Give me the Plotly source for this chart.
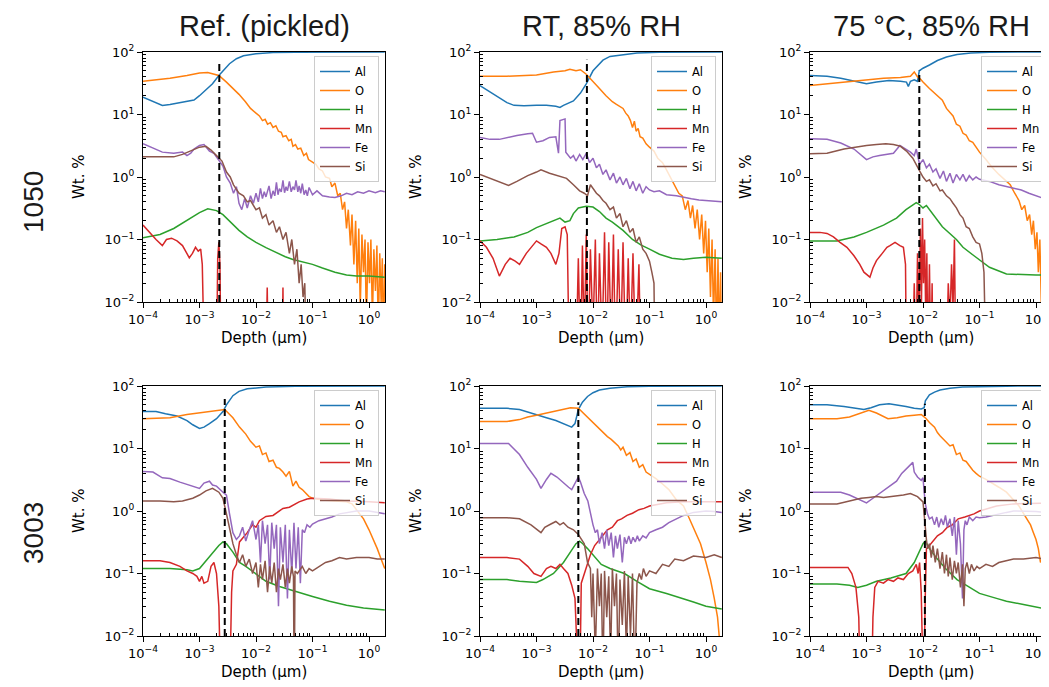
import plotly.graph_objects as go

# the page body has an 8 px margin; figure is sized to fill the rest of the 1049x687 window
PAGE_W, PAGE_H = 1049, 687
OFFSET = 8
W, H = PAGE_W - OFFSET, PAGE_H - OFFSET

ELEMENTS = ["Al", "O", "H", "Mn", "Fe", "Si"]
COLORS = ["#1f77b4", "#ff7f0e", "#2ca02c", "#d62728", "#9467bd", "#8c564b"]
COL_TITLES = ["Ref. (pickled)", "RT, 85% RH", "75 °C, 85% RH"]
ROW_LABELS = ["1050", "3003"]
X_TICKS = [1e-4, 1e-3, 1e-2, 1e-1, 1e0]
X_TICK_TEXT = ["10<sup>\u22124</sup>", "10<sup>\u22123</sup>", "10<sup>\u22122</sup>", "10<sup>\u22121</sup>", "10<sup>0</sup>"]
Y_TICKS = [1e-2, 1e-1, 1e0, 1e1, 1e2]
Y_TICK_TEXT = ["10<sup>\u22122</sup>", "10<sup>\u22121</sup>", "10<sup>0</sup>", "10<sup>1</sup>", "10<sup>2</sup>"]
X_LABEL = "Depth (\u00b5m)"
Y_LABEL = "Wt. %"

# interface depth (um) and top of dashed marker (wt.%) per panel (row-major)
INTERFACE_DEPTH = [2.24e-3, 7.8e-3, 8.6e-3, 2.8e-3, 5.5e-3, 1.08e-2]
INTERFACE_TOP = [70, 75, 50, 62, 55, 52]

# ---------------- Panel 1: 1050, Ref. (pickled) ----------------
p1_al = [(1e-4,19),(1.5e-4,16),(2.2e-4,14),(3e-4,14.5),(4.5e-4,15.5),(6e-4,16),(8e-4,17),(1e-3,20),(1.3e-3,25),(1.7e-3,31),(2.2e-3,42),(2.6e-3,50),(3.4e-3,65),(4.5e-3,78),(6e-3,87),(1e-2,94),(2e-2,98),(5e-2,99.5),(0.2,100),(1.9,100)]
p1_o = [(1e-4,34),(3e-4,38),(6e-4,42),(1e-3,46),(1.4e-3,47),(2.2e-3,42),(3e-3,33),(4e-3,26),(5e-3,21),(6.5e-3,16),(8e-3,12.5),(1e-2,10.5),(1.15e-2,9.5),(1.3e-2,8),(1.45e-2,8.4),(1.6e-2,7.0),(1.8e-2,7.4),(2e-2,6.2),(2.25e-2,6.6),(2.5e-2,5.4),(2.8e-2,5.2),(3e-2,4.4),(3.4e-2,4.6),(3.8e-2,3.8),(4.2e-2,4.0),(4.5e-2,3.1),(5e-2,3.3),(5.5e-2,2.8),(6.2e-2,2.9),(7e-2,2.2),(7.8e-2,2.4),(8.5e-2,1.9),(0.1,1.75),(0.115,1.6),(0.13,1.35),(0.15,1.25),(0.17,1.0),(0.2,0.95),(0.22,0.7),(0.25,0.8),(0.28,0.5),(0.31,0.55),(0.34,0.3),(0.37,0.4),(0.4,0.15),(0.43,0.3),(0.47,0.08),(0.5,0.25),(0.54,0.04),(0.58,0.2),(0.62,0.02),(0.66,0.15),(0.7,0.008),(0.75,0.12),(0.8,0.03),(0.85,0.1),(0.9,0.004),(0.96,0.09),(1.02,0.02),(1.08,0.1),(1.15,0.005),(1.22,0.07),(1.3,0.015),(1.38,0.08),(1.46,0.003),(1.55,0.06),(1.64,0.01),(1.72,0.05),(1.8,0.002),(1.9,0.04)]
p1_h = [(1e-4,0.107),(2e-4,0.12),(3.5e-4,0.15),(6e-4,0.2),(1e-3,0.27),(1.4e-3,0.31),(2e-3,0.29),(2.6e-3,0.25),(3.3e-3,0.2),(4e-3,0.17),(5e-3,0.14),(7e-3,0.11),(1e-2,0.09),(1.5e-2,0.074),(2.2e-2,0.062),(3.3e-2,0.053),(4.5e-2,0.048),(7e-2,0.043),(0.1,0.04),(0.15,0.035),(0.25,0.03),(0.4,0.027),(0.6,0.026),(1.0,0.026),(1.9,0.025)]
p1_mn = [(1e-4,0.17),(1.3e-4,0.13),(1.7e-4,0.1),(2.2e-4,0.08),(2.6e-4,0.1),(3.2e-4,0.105),(4e-4,0.095),(5e-4,0.08),(6.6e-4,0.051),(7.5e-4,0.06),(8.5e-4,0.075),(9.5e-4,0.065),(1.05e-3,0.07),(1.12e-3,0.04),(1.18e-3,0.008),(1.22e-3,0.001),(2.0e-3,0.001),(2.1e-3,0.05),(2.2e-3,0.09),(2.3e-3,0.04),(2.4e-3,0.001),(1.5e-2,0.001),(1.58e-2,0.017),(1.66e-2,0.001),(2.9e-2,0.001),(3.0e-2,0.017),(3.1e-2,0.001)]
p1_fe = [(1e-4,3.4),(1.5e-4,2.9),(2.2e-4,2.5),(3.5e-4,2.4),(5e-4,2.5),(6e-4,2.2),(7e-4,2.4),(8e-4,2.8),(1e-3,3.2),(1.2e-3,3.3),(1.5e-3,2.6),(1.8e-3,2.4),(2.2e-3,1.9),(2.6e-3,1.5),(3e-3,1.0),(3.5e-3,0.8),(4e-3,0.55),(4.5e-3,0.7),(5e-3,0.38),(5.6e-3,0.3),(6.3e-3,0.45),(7e-3,0.32),(8e-3,0.5),(9e-3,0.38),(1e-2,0.55),(1.1e-2,0.4),(1.2e-2,0.66),(1.3e-2,0.45),(1.4e-2,0.58),(1.5e-2,0.48),(1.7e-2,0.72),(1.85e-2,0.45),(2e-2,0.6),(2.15e-2,0.5),(2.3e-2,0.82),(2.45e-2,0.52),(2.6e-2,0.65),(2.8e-2,0.58),(3e-2,0.88),(3.2e-2,0.56),(3.4e-2,0.7),(3.6e-2,0.6),(3.9e-2,0.85),(4.2e-2,0.58),(4.5e-2,0.7),(4.8e-2,0.62),(5.1e-2,0.88),(5.5e-2,0.58),(5.8e-2,0.72),(6.2e-2,0.55),(6.6e-2,0.78),(7.1e-2,0.52),(7.6e-2,0.62),(8.1e-2,0.5),(8.7e-2,0.68),(0.1,0.52),(0.12,0.6),(0.15,0.5),(0.2,0.48),(0.25,0.47),(0.32,0.5),(0.4,0.55),(0.5,0.52),(0.63,0.58),(0.8,0.55),(1.0,0.6),(1.3,0.56),(1.6,0.6),(1.9,0.58)]
p1_si = [(1e-4,2.1),(2e-4,2.1),(3.5e-4,2.1),(5e-4,2.3),(7e-4,2.6),(1e-3,3.0),(1.3e-3,3.1),(1.6e-3,2.7),(2e-3,2.2),(2.5e-3,1.8),(3e-3,1.2),(3.5e-3,1.0),(4e-3,0.75),(5e-3,0.55),(6e-3,0.5),(7e-3,0.4),(8e-3,0.42),(1e-2,0.3),(1.15e-2,0.32),(1.3e-2,0.22),(1.5e-2,0.25),(1.7e-2,0.17),(2e-2,0.2),(2.3e-2,0.13),(2.6e-2,0.16),(3e-2,0.1),(3.4e-2,0.13),(3.9e-2,0.06),(4.3e-2,0.1),(4.8e-2,0.04),(5.3e-2,0.07),(5.8e-2,0.02),(6.3e-2,0.04),(6.8e-2,0.012),(7.3e-2,0.02),(7.8e-2,0.001)]

# ---------------- Panel 2: 1050, RT, 85% RH ----------------
p2_al = [(1e-4,29),(1.5e-4,23),(2.2e-4,18),(3e-4,15.5),(4e-4,14),(6e-4,13.8),(1e-3,14),(1.5e-3,14),(2.2e-3,13.5),(2.6e-3,13),(3e-3,14),(4.5e-3,16.5),(6e-3,22),(7.6e-3,31),(1e-2,50),(1.5e-2,74),(2e-2,85),(3.4e-2,91),(6e-2,96),(0.15,99),(0.5,100),(1.9,100)]
p2_o = [(1e-4,41),(3e-4,41),(1e-3,43),(2e-3,48),(3.2e-3,50),(3.9e-3,53),(5e-3,50),(6e-3,52),(7.6e-3,44),(1e-2,33),(1.3e-2,26),(1.7e-2,20),(2.2e-2,16),(2.6e-2,14.5),(3e-2,13.5),(3.4e-2,12.5),(3.8e-2,10.5),(4.2e-2,9.5),(4.6e-2,8.0),(5e-2,6.2),(5.4e-2,7.8),(5.8e-2,5.4),(6.3e-2,6.0),(6.8e-2,4.4),(7.6e-2,4.2),(8.7e-2,3.4),(0.1,3.0),(0.12,2.6),(0.14,2.0),(0.17,1.7),(0.2,1.3),(0.24,0.95),(0.28,0.72),(0.33,0.55),(0.38,0.5),(0.43,0.3),(0.48,0.42),(0.53,0.22),(0.58,0.35),(0.64,0.15),(0.7,0.3),(0.77,0.1),(0.84,0.25),(0.91,0.06),(0.98,0.2),(1.05,0.03),(1.12,0.15),(1.2,0.012),(1.28,0.1),(1.36,0.005),(1.45,0.07),(1.54,0.002),(1.63,0.05),(1.72,0.002),(1.81,0.03),(1.9,0.001)]
p2_h = [(1e-4,0.095),(2e-4,0.1),(4e-4,0.11),(7e-4,0.13),(1e-3,0.155),(1.5e-3,0.18),(2.2e-3,0.21),(2.6e-3,0.22),(3.2e-3,0.19),(3.9e-3,0.2),(4.5e-3,0.26),(5.5e-3,0.32),(7.6e-3,0.34),(1e-2,0.33),(1.3e-2,0.28),(1.7e-2,0.22),(2.2e-2,0.19),(3.4e-2,0.14),(5e-2,0.1),(7e-2,0.082),(0.1,0.07),(0.15,0.058),(0.25,0.05),(0.4,0.048),(0.6,0.05),(1.0,0.052),(1.9,0.05)]
p2_mn = [(1e-4,0.095),(1.3e-4,0.075),(1.7e-4,0.05),(2.2e-4,0.026),(2.8e-4,0.04),(3.4e-4,0.05),(4.2e-4,0.045),(5e-4,0.04),(6.6e-4,0.06),(8e-4,0.075),(1e-3,0.095),(1.2e-3,0.085),(1.5e-3,0.075),(1.8e-3,0.06),(2.2e-3,0.04),(2.5e-3,0.06),(2.8e-3,0.15),(3.2e-3,0.16),(3.5e-3,0.12),(3.8e-3,0.001),(5e-3,0.001),(5.5e-3,0.05),(6e-3,0.001),(6.5e-3,0.08),(7e-3,0.002),(7.6e-3,0.12),(8.2e-3,0.001),(9e-3,0.07),(1e-2,0.003),(1.1e-2,0.1),(1.2e-2,0.001),(1.3e-2,0.06),(1.45e-2,0.002),(1.6e-2,0.13),(1.75e-2,0.001),(1.9e-2,0.09),(2.1e-2,0.002),(2.3e-2,0.12),(2.5e-2,0.001),(2.8e-2,0.07),(3.1e-2,0.002),(3.4e-2,0.09),(3.8e-2,0.001),(4.2e-2,0.05),(4.6e-2,0.002),(5.1e-2,0.06),(5.7e-2,0.001),(6.5e-2,0.04),(7e-2,0.001)]
p2_fe = [(1e-4,4.3),(1.5e-4,4.0),(2.2e-4,4.0),(3e-4,4.3),(4.5e-4,4.6),(7e-4,4.9),(8.5e-4,5.0),(1e-3,3.6),(1.3e-3,3.8),(1.7e-3,4.3),(2.2e-3,4.4),(2.45e-3,2.4),(2.6e-3,8.0),(3.2e-3,8.5),(3.3e-3,2.5),(4e-3,2.0),(4.5e-3,2.2),(5e-3,1.8),(5.8e-3,2.3),(6.6e-3,1.9),(7.6e-3,2.4),(8.7e-3,1.7),(1e-2,2.0),(1.15e-2,1.4),(1.3e-2,1.6),(1.5e-2,1.1),(1.7e-2,1.3),(2e-2,0.9),(2.3e-2,1.15),(2.6e-2,0.8),(3e-2,1.0),(3.4e-2,0.75),(3.9e-2,0.95),(4.5e-2,0.65),(5.1e-2,0.85),(5.8e-2,0.6),(6.6e-2,0.78),(7.6e-2,0.55),(8.7e-2,0.7),(0.1,0.62),(0.12,0.58),(0.15,0.6),(0.2,0.52),(0.3,0.5),(0.4,0.47),(0.55,0.45),(0.75,0.43),(1.0,0.42),(1.4,0.4),(1.9,0.4)]
p2_si = [(1e-4,1.1),(1.5e-4,0.95),(2.2e-4,0.82),(3.2e-4,0.73),(4.5e-4,0.85),(7e-4,1.05),(1e-3,1.2),(1.2e-3,1.3),(1.7e-3,1.15),(2.5e-3,1.05),(3.4e-3,0.95),(4.5e-3,0.75),(5.8e-3,0.6),(7e-3,0.55),(8e-3,0.5),(9e-3,0.75),(1e-2,0.65),(1.15e-2,0.55),(1.3e-2,0.5),(1.5e-2,0.42),(1.7e-2,0.38),(2e-2,0.3),(2.3e-2,0.33),(2.6e-2,0.22),(3e-2,0.26),(3.4e-2,0.16),(3.9e-2,0.2),(4.5e-2,0.13),(5.1e-2,0.15),(5.8e-2,0.09),(6.6e-2,0.11),(7.6e-2,0.07),(8.7e-2,0.06),(0.1,0.045),(0.11,0.03),(0.12,0.02),(0.125,0.001)]

# ---------------- Panel 3: 1050, 75 C, 85% RH ----------------
p3_al = [(1e-4,42),(2e-4,41),(3.5e-4,38),(6e-4,34),(1e-3,31),(1.5e-3,33),(2.5e-3,35),(4e-3,34),(5.1e-3,33),(5.5e-3,28),(6e-3,34),(7e-3,36),(8e-3,34),(8.6e-3,50),(1e-2,55),(1.3e-2,62),(1.8e-2,73),(2.6e-2,83),(4e-2,91),(7e-2,96),(0.15,99),(0.5,100),(1.9,100)]
p3_o = [(1e-4,29),(2e-4,31),(5e-4,34),(1e-3,36),(2e-3,38),(4e-3,39),(6e-3,41),(7e-3,48),(8e-3,40),(9e-3,37),(1e-2,33),(1.3e-2,26),(1.7e-2,21),(2.2e-2,17),(2.6e-2,12.5),(3e-2,11),(3.4e-2,9.5),(3.9e-2,7),(4.5e-2,6.5),(5.1e-2,5.0),(5.8e-2,4.7),(6.6e-2,3.8),(7.6e-2,3.6),(8.7e-2,3.0),(0.1,2.5),(0.13,1.9),(0.17,1.4),(0.22,1.1),(0.28,0.9),(0.35,0.75),(0.42,0.55),(0.5,0.42),(0.56,0.3),(0.63,0.35),(0.7,0.2),(0.77,0.25),(0.84,0.12),(0.9,0.2),(0.97,0.07),(1.04,0.13),(1.1,0.03),(1.17,0.1),(1.24,0.01),(1.32,0.08),(1.4,0.004),(1.48,0.06),(1.56,0.002),(1.65,0.04),(1.73,0.001)]
p3_h = [(1e-4,0.095),(3e-4,0.095),(6e-4,0.11),(1e-3,0.13),(2e-3,0.17),(3.4e-3,0.22),(5e-3,0.3),(7.6e-3,0.39),(8.7e-3,0.36),(1e-2,0.32),(1.15e-2,0.35),(1.3e-2,0.3),(2.2e-2,0.16),(3.9e-2,0.1),(5.1e-2,0.075),(8e-2,0.055),(0.15,0.036),(0.3,0.028),(0.6,0.027),(1.0,0.027),(1.9,0.027)]
p3_mn = [(1e-4,0.13),(1.5e-4,0.13),(2e-4,0.125),(2.6e-4,0.11),(3.4e-4,0.09),(4.5e-4,0.075),(6e-4,0.055),(7.6e-4,0.04),(9e-4,0.03),(1.15e-3,0.025),(1.3e-3,0.035),(1.5e-3,0.046),(1.9e-3,0.06),(2.3e-3,0.075),(2.6e-3,0.08),(3.2e-3,0.09),(3.9e-3,0.08),(4.5e-3,0.075),(4.9e-3,0.04),(5.1e-3,0.001),(6.5e-3,0.001),(7e-3,0.02),(7.5e-3,0.001),(8e-3,0.06),(8.5e-3,0.005),(9e-3,0.15),(9.4e-3,0.01),(9.8e-3,0.22),(1.02e-2,0.02),(1.07e-2,0.1),(1.12e-2,0.005),(1.17e-2,0.06),(1.22e-2,0.001),(1.3e-2,0.04),(1.38e-2,0.001),(1.45e-2,0.02),(1.5e-2,0.001),(2.6e-2,0.001),(2.8e-2,0.02),(3.0e-2,0.005),(3.2e-2,0.04),(3.4e-2,0.008),(3.6e-2,0.1),(3.8e-2,0.001)]
p3_fe = [(1e-4,4.1),(2e-4,4.0),(3.5e-4,3.5),(6e-4,2.8),(1e-3,1.9),(1.3e-3,2.1),(1.7e-3,2.2),(2.2e-3,2.3),(3e-3,2.4),(3.9e-3,3.2),(5e-3,2.8),(6e-3,2.5),(7e-3,2.2),(7.6e-3,2.8),(8.7e-3,1.6),(1e-2,1.9),(1.15e-2,1.4),(1.3e-2,1.6),(1.5e-2,1.2),(1.7e-2,1.35),(2e-2,0.95),(2.3e-2,1.25),(2.6e-2,0.85),(3e-2,1.15),(3.4e-2,0.8),(3.9e-2,1.1),(4.5e-2,0.9),(5.1e-2,1.1),(5.8e-2,0.85),(6.6e-2,1.05),(7.6e-2,0.9),(8.7e-2,1.0),(0.1,0.92),(0.15,0.85),(0.22,0.75),(0.3,0.7),(0.4,0.67),(0.55,0.62),(0.75,0.55),(1.0,0.5),(1.4,0.45),(1.9,0.42)]
p3_si = [(1e-4,2.35),(2e-4,2.4),(4e-4,2.8),(6e-4,3.0),(1e-3,3.2),(1.5e-3,3.3),(2.2e-3,3.4),(3e-3,3.3),(4e-3,3.1),(5.1e-3,2.6),(6.6e-3,2.0),(8.7e-3,1.25),(1e-2,1.0),(1.15e-2,0.85),(1.3e-2,0.9),(1.5e-2,0.72),(1.7e-2,0.78),(2e-2,0.6),(2.2e-2,0.62),(2.6e-2,0.5),(3e-2,0.45),(3.4e-2,0.38),(3.9e-2,0.32),(4.5e-2,0.25),(5.1e-2,0.22),(5.8e-2,0.16),(6.6e-2,0.15),(7.6e-2,0.11),(8.7e-2,0.09),(0.1,0.085),(0.11,0.06),(0.12,0.03),(0.13,0.001)]

# ---------------- Panel 4: 3003, Ref. (pickled) ----------------
p4_al = [(1e-4,39),(1.7e-4,39),(2.5e-4,36),(4e-4,33),(6e-4,28),(7.6e-4,24),(1e-3,21),(1.2e-3,22),(1.5e-3,25),(2e-3,30),(2.6e-3,39),(3e-3,50),(3.9e-3,70),(5e-3,82),(7e-3,90),(1.5e-2,96),(5e-2,99),(0.2,100),(1.9,100)]
p4_o = [(1e-4,30),(3e-4,31),(6e-4,35),(1e-3,37),(1.5e-3,39),(2.1e-3,41),(2.8e-3,42),(3.9e-3,31),(5.1e-3,22),(6.6e-3,17),(8e-3,13),(1e-2,10.5),(1.15e-2,11),(1.3e-2,8),(1.5e-2,8.5),(1.7e-2,6.2),(2e-2,6.5),(2.3e-2,5),(2.6e-2,4.8),(3e-2,4.2),(3.4e-2,3.6),(3.9e-2,4.3),(4.5e-2,2.5),(5.1e-2,3.0),(5.8e-2,2.4),(6.6e-2,2.2),(7.6e-2,1.9),(8.7e-2,1.7),(0.1,1.6),(0.15,1.5),(0.25,1.45),(0.4,1.4),(0.5,1.3),(0.63,1.0),(0.8,0.75),(1.0,0.5),(1.2,0.35),(1.4,0.25),(1.6,0.18),(1.9,0.12)]
p4_h = [(1e-4,0.12),(3e-4,0.12),(6e-4,0.115),(7.6e-4,0.11),(1e-3,0.12),(1.3e-3,0.16),(1.7e-3,0.22),(2.2e-3,0.28),(2.6e-3,0.32),(3e-3,0.3),(3.9e-3,0.22),(5.1e-3,0.15),(6.6e-3,0.13),(1e-2,0.1),(1.5e-2,0.075),(2.6e-2,0.062),(4.5e-2,0.054),(7e-2,0.047),(0.1,0.043),(0.2,0.036),(0.4,0.031),(0.8,0.028),(1.9,0.026)]
p4_mn = [(1e-4,0.16),(2e-4,0.16),(3e-4,0.15),(4.5e-4,0.13),(6e-4,0.11),(7.6e-4,0.1),(9e-4,0.09),(1e-3,0.075),(1.1e-3,0.09),(1.2e-3,0.07),(1.4e-3,0.075),(1.6e-3,0.13),(1.8e-3,0.15),(2e-3,0.1),(2.2e-3,0.03),(2.4e-3,0.001),(3.4e-3,0.001),(3.7e-3,0.05),(3.9e-3,0.11),(4.5e-3,0.14),(5.1e-3,0.32),(6e-3,0.38),(7e-3,0.45),(8.7e-3,0.6),(1e-2,0.55),(1.15e-2,0.7),(1.5e-2,0.82),(2e-2,0.85),(2.6e-2,1.0),(3e-2,1.1),(3.9e-2,1.15),(5.8e-2,1.4),(8e-2,1.55),(0.1,1.6),(0.2,1.55),(0.4,1.45),(1.0,1.4),(1.9,1.35)]
p4_fe = [(1e-4,4.3),(1.5e-4,4.2),(2.2e-4,3.4),(3e-4,3.3),(4.5e-4,2.9),(7.6e-4,2.5),(1e-3,2.3),(1.2e-3,2.8),(1.5e-3,3.0),(1.7e-3,2.6),(2e-3,2.5),(2.6e-3,2.0),(3e-3,1.8),(3.4e-3,0.9),(3.9e-3,0.45),(4.5e-3,0.35),(5.1e-3,0.4),(5.8e-3,0.55),(6.6e-3,0.33),(7.6e-3,0.5),(8.7e-3,0.7),(1e-2,0.35),(1.1e-2,0.6),(1.2e-2,0.15),(1.3e-2,0.7),(1.45e-2,0.3),(1.6e-2,0.6),(1.75e-2,0.08),(1.9e-2,0.65),(2.1e-2,0.25),(2.3e-2,0.6),(2.5e-2,0.03),(2.7e-2,0.55),(3e-2,0.15),(3.3e-2,0.6),(3.6e-2,0.04),(3.9e-2,0.5),(4.3e-2,0.1),(4.7e-2,0.65),(5.1e-2,0.12),(5.6e-2,0.55),(6.1e-2,0.07),(6.6e-2,0.5),(7.2e-2,0.45),(8e-2,0.6),(9e-2,0.55),(0.1,0.62),(0.13,0.7),(0.17,0.75),(0.22,0.8),(0.3,0.9),(0.4,0.95),(0.6,1.0),(1.0,1.0),(1.4,0.95),(1.9,0.9)]
p4_si = [(1e-4,1.45),(2e-4,1.45),(3.5e-4,1.4),(5e-4,1.45),(7.6e-4,1.6),(1e-3,1.8),(1.3e-3,2.1),(1.7e-3,2.3),(2.2e-3,2.0),(2.6e-3,1.6),(3e-3,0.9),(3.4e-3,0.5),(3.9e-3,0.3),(4.5e-3,0.2),(5.1e-3,0.15),(5.8e-3,0.2),(6.6e-3,0.13),(7.6e-3,0.17),(8.7e-3,0.1),(1e-2,0.15),(1.1e-2,0.06),(1.2e-2,0.14),(1.3e-2,0.08),(1.45e-2,0.16),(1.6e-2,0.05),(1.75e-2,0.13),(1.9e-2,0.07),(2.1e-2,0.15),(2.3e-2,0.05),(2.5e-2,0.12),(2.7e-2,0.08),(3e-2,0.14),(3.3e-2,0.06),(3.6e-2,0.12),(3.9e-2,0.07),(4.3e-2,0.13),(4.6e-2,0.09),(4.75e-2,0.001),(4.9e-2,0.11),(5.4e-2,0.1),(6.1e-2,0.12),(6.6e-2,0.13),(7.6e-2,0.1),(8.7e-2,0.12),(0.1,0.11),(0.13,0.13),(0.17,0.15),(0.22,0.16),(0.3,0.18),(0.4,0.17),(0.6,0.18),(1.0,0.18),(1.4,0.17),(1.9,0.17)]

# ---------------- Panel 5: 3003, RT, 85% RH ----------------
p5_al = [(1e-4,44),(3e-4,44),(5e-4,42),(7e-4,38),(1e-3,34),(1.5e-3,31),(2.2e-3,28),(3e-3,25),(4.2e-3,22),(4.8e-3,25),(5.2e-3,32),(5.5e-3,42),(6.5e-3,55),(8e-3,68),(1e-2,78),(1.3e-2,86),(2e-2,92),(4e-2,97),(0.1,99),(0.5,100),(1.9,100)]
p5_o = [(1e-4,27),(3e-4,27),(5e-4,29),(7e-4,32),(1e-3,34),(1.5e-3,37),(2.5e-3,41),(4e-3,45),(5.5e-3,44),(6.5e-3,38),(8e-3,32),(1e-2,26),(1.3e-2,21),(1.6e-2,17),(1.8e-2,15.5),(2.1e-2,14),(2.5e-2,12),(2.8e-2,11),(3.1e-2,9.5),(3.4e-2,10.5),(3.9e-2,7.8),(4.5e-2,8.6),(5.1e-2,6.2),(5.8e-2,6.8),(6.6e-2,5.0),(7.6e-2,5.5),(8.7e-2,4.2),(0.1,3.9),(0.13,3.3),(0.17,2.7),(0.22,2.2),(0.3,1.5),(0.4,1.2),(0.5,0.78),(0.63,0.5),(0.8,0.3),(1.0,0.15),(1.2,0.08),(1.4,0.04),(1.6,0.02),(1.75,0.008),(1.9,0.003)]
p5_h = [(1e-4,0.08),(3e-4,0.08),(5e-4,0.075),(8e-4,0.072),(1e-3,0.072),(1.3e-3,0.08),(2e-3,0.1),(3e-3,0.15),(4e-3,0.22),(5e-3,0.3),(5.8e-3,0.33),(6.6e-3,0.3),(8e-3,0.25),(1e-2,0.2),(1.4e-2,0.14),(2e-2,0.12),(3.6e-2,0.1),(6e-2,0.075),(0.1,0.057),(0.2,0.048),(0.3,0.043),(0.6,0.035),(1.0,0.03),(1.9,0.027)]
p5_mn = [(1e-4,0.18),(3e-4,0.18),(5e-4,0.17),(7e-4,0.13),(9e-4,0.1),(1.2e-3,0.09),(1.5e-3,0.12),(1.8e-3,0.13),(2.2e-3,0.12),(2.6e-3,0.14),(3e-3,0.12),(3.6e-3,0.1),(4.2e-3,0.065),(4.8e-3,0.04),(5.1e-3,0.01),(5.3e-3,0.001),(5.8e-3,0.001),(6.2e-3,0.07),(7e-3,0.1),(8e-3,0.14),(9e-3,0.2),(1.07e-2,0.28),(1.3e-2,0.35),(1.5e-2,0.4),(1.8e-2,0.5),(2.2e-2,0.55),(2.7e-2,0.7),(3.2e-2,0.75),(4e-2,0.85),(5e-2,0.92),(6.5e-2,1.05),(8e-2,1.1),(0.1,1.2),(0.2,1.35),(0.4,1.4),(1.0,1.4),(1.9,1.4)]
p5_fe = [(1e-4,12),(3.2e-4,12),(5e-4,8),(7e-4,5),(1e-3,3.2),(1.2e-3,2.3),(1.5e-3,3.2),(1.8e-3,4.0),(2.3e-3,3.5),(3e-3,2.8),(3.7e-3,2.4),(4.2e-3,2.2),(4.8e-3,2.8),(5.5e-3,3.5),(6e-3,2.9),(7e-3,1.9),(8.1e-3,1.45),(9e-3,0.9),(1e-2,0.6),(1.1e-2,0.45),(1.2e-2,0.5),(1.3e-2,0.3),(1.45e-2,0.45),(1.6e-2,0.25),(1.75e-2,0.5),(1.9e-2,0.28),(2.1e-2,0.45),(2.3e-2,0.18),(2.5e-2,0.4),(2.7e-2,0.25),(3e-2,0.42),(3.3e-2,0.15),(3.6e-2,0.38),(3.9e-2,0.3),(4.3e-2,0.4),(4.7e-2,0.3),(5.1e-2,0.38),(5.6e-2,0.32),(6.1e-2,0.4),(6.6e-2,0.33),(7.6e-2,0.4),(8.7e-2,0.37),(0.1,0.45),(0.13,0.5),(0.17,0.55),(0.22,0.65),(0.3,0.75),(0.4,0.85),(0.6,0.95),(1.0,1.0),(1.4,0.98),(1.9,0.95)]
p5_si = [(1e-4,0.78),(3e-4,0.78),(5e-4,0.75),(8e-4,0.6),(1.2e-3,0.45),(1.4e-3,0.55),(1.8e-3,0.62),(2.2e-3,0.68),(2.6e-3,0.6),(3e-3,0.65),(3.6e-3,0.55),(4.5e-3,0.5),(5.5e-3,0.42),(6.2e-3,0.35),(7e-3,0.3),(8e-3,0.15),(9e-3,0.12),(9.5e-3,0.02),(1e-2,0.1),(1.1e-2,0.005),(1.2e-2,0.12),(1.3e-2,0.03),(1.4e-2,0.1),(1.5e-2,0.002),(1.6e-2,0.11),(1.75e-2,0.02),(1.9e-2,0.09),(2.05e-2,0.004),(2.2e-2,0.12),(2.4e-2,0.03),(2.6e-2,0.1),(2.8e-2,0.002),(3e-2,0.08),(3.3e-2,0.015),(3.6e-2,0.11),(3.9e-2,0.005),(4.2e-2,0.09),(4.6e-2,0.01),(5e-2,0.1),(5.5e-2,0.002),(6e-2,0.07),(6.6e-2,0.1),(7.2e-2,0.08),(7.8e-2,0.12),(8.7e-2,0.09),(0.1,0.11),(0.13,0.1),(0.17,0.14),(0.22,0.13),(0.28,0.17),(0.4,0.16),(0.6,0.19),(1.0,0.18),(1.4,0.2),(1.9,0.18)]

# ---------------- Panel 6: 3003, 75 C, 85% RH ----------------
p6_al = [(1e-4,50),(2e-4,50),(4e-4,47),(7e-4,44),(9e-4,42),(1.2e-3,45),(1.7e-3,50),(2.5e-3,52),(3.5e-3,50),(5e-3,47),(7e-3,44),(9.3e-3,43),(1.05e-2,45),(1.1e-2,58),(1.3e-2,72),(1.6e-2,80),(2e-2,86),(3e-2,92),(5e-2,96),(0.1,98),(0.3,99.5),(1.9,100)]
p6_o = [(1e-4,30),(3e-4,30),(5e-4,32),(7e-4,36),(1.1e-3,41),(1.5e-3,37),(2.4e-3,30),(3.5e-3,31),(5e-3,33),(7e-3,34),(9.3e-3,35),(1.1e-2,31),(1.3e-2,26),(1.6e-2,22),(1.8e-2,18),(2e-2,16),(2.3e-2,14),(2.6e-2,12.5),(3e-2,11),(3.4e-2,11.5),(3.9e-2,8),(4.5e-2,8.5),(5.1e-2,6.5),(5.8e-2,6.2),(6.6e-2,5.2),(7.6e-2,4.5),(8.7e-2,4.0),(0.1,3.6),(0.13,3.2),(0.17,2.8),(0.22,2.4),(0.3,2.0),(0.4,1.5),(0.5,1.2),(0.63,0.85),(0.8,0.6),(0.9,0.45),(1.0,0.35),(1.1,0.25),(1.2,0.15),(1.3,0.18),(1.4,0.08),(1.5,0.1),(1.6,0.03),(1.7,0.05)]
p6_h = [(1e-4,0.068),(3e-4,0.068),(5e-4,0.065),(7e-4,0.06),(1e-3,0.065),(1.5e-3,0.075),(2.7e-3,0.085),(5e-3,0.1),(7e-3,0.15),(8.5e-3,0.22),(1e-2,0.3),(1.1e-2,0.33),(1.3e-2,0.25),(1.8e-2,0.17),(2.5e-2,0.12),(4e-2,0.08),(7e-2,0.058),(0.1,0.048),(0.2,0.04),(0.3,0.036),(0.6,0.032),(1.0,0.029),(1.9,0.026)]
p6_mn = [(1e-4,0.125),(2e-4,0.125),(3.3e-4,0.125),(4.7e-4,0.125),(5.5e-4,0.1),(6.5e-4,0.06),(7.3e-4,0.02),(7.8e-4,0.001),(1.22e-3,0.001),(1.3e-3,0.02),(1.4e-3,0.06),(1.6e-3,0.075),(2e-3,0.07),(2.4e-3,0.08),(3e-3,0.075),(3.6e-3,0.085),(4.5e-3,0.08),(5.5e-3,0.1),(6.6e-3,0.11),(7.6e-3,0.14),(8.2e-3,0.1),(8.7e-3,0.15),(9.3e-3,0.05),(9.8e-3,0.01),(1.02e-2,0.001),(1.1e-2,0.05),(1.15e-2,0.25),(1.3e-2,0.28),(1.5e-2,0.33),(1.8e-2,0.4),(2.2e-2,0.45),(2.7e-2,0.55),(3.3e-2,0.6),(4.2e-2,0.75),(5.5e-2,0.8),(8e-2,0.9),(0.1,1.0),(0.2,1.2),(0.4,1.3),(1.0,1.35),(1.9,1.35)]
p6_fe = [(1e-4,2.0),(2e-4,2.0),(3.5e-4,2.0),(5e-4,1.8),(8e-4,1.5),(1e-3,1.35),(1.3e-3,1.6),(1.7e-3,1.9),(2.2e-3,2.3),(2.8e-3,2.6),(3.4e-3,3.0),(4.2e-3,4.0),(5.5e-3,5.0),(6.6e-3,6.0),(7e-3,4.2),(8e-3,3.5),(9.3e-3,3.1),(1e-2,3.4),(1.05e-2,2.0),(1.1e-2,1.3),(1.2e-2,0.9),(1.3e-2,0.75),(1.45e-2,0.8),(1.6e-2,0.6),(1.75e-2,0.8),(1.9e-2,0.55),(2.1e-2,0.75),(2.3e-2,0.6),(2.5e-2,0.85),(2.7e-2,0.55),(3e-2,0.75),(3.3e-2,0.4),(3.6e-2,0.8),(3.9e-2,0.2),(4.2e-2,0.7),(4.6e-2,0.3),(5e-2,0.04),(5.3e-2,0.5),(5.6e-2,0.7),(6e-2,0.6),(6.6e-2,0.8),(7.6e-2,0.7),(8.7e-2,0.8),(0.1,0.78),(0.13,0.8),(0.17,0.85),(0.22,0.9),(0.3,0.95),(0.4,1.0),(0.6,1.0),(1.0,0.98),(1.4,0.95),(1.9,0.9)]
p6_si = [(1e-4,1.3),(3e-4,1.3),(5e-4,1.45),(8e-4,1.6),(1.1e-3,1.65),(1.5e-3,1.7),(2e-3,1.65),(3e-3,1.7),(4.5e-3,1.8),(6e-3,1.9),(8e-3,1.7),(1e-2,1.4),(1.05e-2,0.8),(1.1e-2,0.5),(1.15e-2,0.35),(1.2e-2,0.25),(1.3e-2,0.3),(1.4e-2,0.18),(1.5e-2,0.28),(1.65e-2,0.15),(1.8e-2,0.25),(2e-2,0.12),(2.2e-2,0.22),(2.4e-2,0.1),(2.6e-2,0.2),(2.8e-2,0.09),(3e-2,0.18),(3.3e-2,0.08),(3.6e-2,0.16),(3.9e-2,0.1),(4.2e-2,0.15),(4.6e-2,0.06),(5e-2,0.14),(5.3e-2,0.03),(5.6e-2,0.12),(6e-2,0.15),(6.6e-2,0.1),(7.2e-2,0.14),(8e-2,0.11),(9e-2,0.13),(0.1,0.12),(0.13,0.14),(0.17,0.13),(0.22,0.15),(0.3,0.16),(0.4,0.17),(0.6,0.17),(1.0,0.18),(1.4,0.17),(1.9,0.17)]

PANEL_SERIES = [
    [p1_al, p1_o, p1_h, p1_mn, p1_fe, p1_si],
    [p2_al, p2_o, p2_h, p2_mn, p2_fe, p2_si],
    [p3_al, p3_o, p3_h, p3_mn, p3_fe, p3_si],
    [p4_al, p4_o, p4_h, p4_mn, p4_fe, p4_si],
    [p5_al, p5_o, p5_h, p5_mn, p5_fe, p5_si],
    [p6_al, p6_o, p6_h, p6_mn, p6_fe, p6_si],
]

# ---------------- layout geometry (page pixels) ----------------
COL_LEFT = [143, 480, 810]
COL_W = 242
ROW_TOP = [52, 386]
ROW_H = 250
PX_PER_DEC_X = 56.5

FONT = "DejaVu Sans"
TITLE_FONT = "Liberation Sans"

def px(xp):
    return (xp - OFFSET) / W

def py(yp):
    return 1 - (yp - OFFSET) / H

def minor_vals(lo, hi):
    out = []
    for d in range(lo, hi + 1):
        for k in range(2, 10):
            out.append(k * 10.0 ** d)
    return out

X_MINOR = minor_vals(-4, 0)
Y_MINOR = minor_vals(-2, 1)

fig = go.Figure()
layout = dict(
    width=W, height=H, margin=dict(l=0, r=0, t=0, b=0, pad=0, autoexpand=False),
    paper_bgcolor="white", plot_bgcolor="white",
    annotations=[],
)

for p in range(6):
    r, c = divmod(p, 3)
    idx = p + 1
    xa = "xaxis" if idx == 1 else f"xaxis{idx}"
    ya = "yaxis" if idx == 1 else f"yaxis{idx}"
    xref = "x" if idx == 1 else f"x{idx}"
    yref = "y" if idx == 1 else f"y{idx}"
    lg = "legend" if idx == 1 else f"legend{idx}"

    left = COL_LEFT[c]
    right = min(left + COL_W, PAGE_W)
    top = ROW_TOP[r]
    bottom = top + ROW_H
    xr_end = -4 + (right - left) / PX_PER_DEC_X

    layout[xa] = dict(
        type="log", domain=[px(left), min(px(right), 1.0)], range=[-4, xr_end], anchor=yref,
        automargin=False,
        tickmode="array", tickvals=X_TICKS, ticktext=X_TICK_TEXT,
        ticks="outside", ticklen=5, tickwidth=1, tickcolor="black",
        showline=True, linecolor="black", linewidth=1, mirror=True,
        showgrid=False, zeroline=False,
        tickfont=dict(family=FONT, size=13, color="black"),
        minor=dict(tickmode="array", tickvals=X_MINOR, ticks="inside", ticklen=3,
                   tickwidth=0.8, tickcolor="black", showgrid=False),
    )
    layout[ya] = dict(
        type="log", domain=[py(bottom), py(top)], range=[-2, 2], anchor=xref,
        automargin=False,
        tickmode="array", tickvals=Y_TICKS, ticktext=Y_TICK_TEXT,
        ticks="outside", ticklen=5, tickwidth=1, tickcolor="black",
        showline=True, linecolor="black", linewidth=1, mirror=(c != 2),
        showgrid=False, zeroline=False,
        tickfont=dict(family=FONT, size=13, color="black"),
        minor=dict(tickmode="array", tickvals=Y_MINOR, ticks="inside", ticklen=3,
                   tickwidth=0.8, tickcolor="black", showgrid=False),
    )
    layout[lg] = dict(
        x=px(left + COL_W - 6), xanchor="right",
        y=py(top + 4), yanchor="top",
        bgcolor="rgba(255,255,255,0.8)", bordercolor="#cccccc", borderwidth=1,
        font=dict(family=FONT, size=11.5, color="black"),
        itemwidth=30, tracegroupgap=0,
    )

    for e, name in enumerate(ELEMENTS):
        pts = PANEL_SERIES[p][e]
        xs = [q[0] for q in pts]
        ys = [q[1] for q in pts]
        fig.add_trace(go.Scatter(
            x=xs, y=ys, mode="lines", name=name,
            line=dict(color=COLORS[e], width=1.5),
            xaxis=xref, yaxis=yref, legend=lg, showlegend=True,
        ))
    d = INTERFACE_DEPTH[p]
    fig.add_trace(go.Scatter(
        x=[d, d], y=[0.01, INTERFACE_TOP[p]], mode="lines",
        line=dict(color="black", width=2, dash="7px,4px"),
        xaxis=xref, yaxis=yref, showlegend=False, hoverinfo="skip",
    ))

    layout["annotations"].append(dict(
        text=Y_LABEL, xref="paper", yref="paper",
        x=px(left - 64), y=py(top + ROW_H / 2),
        xanchor="center", yanchor="middle", textangle=-90, showarrow=False,
        font=dict(family=FONT, size=15, color="black"),
    ))
    layout["annotations"].append(dict(
        text=X_LABEL, xref="paper", yref="paper",
        x=px(left + COL_W / 2), y=py(bottom + 36),
        xanchor="center", yanchor="middle", showarrow=False,
        font=dict(family=FONT, size=15, color="black"),
    ))

for c, t in enumerate(COL_TITLES):
    layout["annotations"].append(dict(
        text=t, xref="paper", yref="paper",
        x=px(COL_LEFT[c] + COL_W / 2), y=py(26),
        xanchor="center", yanchor="middle", showarrow=False,
        font=dict(family=TITLE_FONT, size=29, color="#1a1a1a"),
    ))

ROW_LABEL_Y = [202, 533]
for r, t in enumerate(ROW_LABELS):
    layout["annotations"].append(dict(
        text=t, xref="paper", yref="paper",
        x=px(33), y=py(ROW_LABEL_Y[r]),
        xanchor="center", yanchor="middle", textangle=-90, showarrow=False,
        font=dict(family=TITLE_FONT, size=28, color="#1a1a1a"),
    ))

fig.update_layout(**layout)
fig.write_html("out.html")
